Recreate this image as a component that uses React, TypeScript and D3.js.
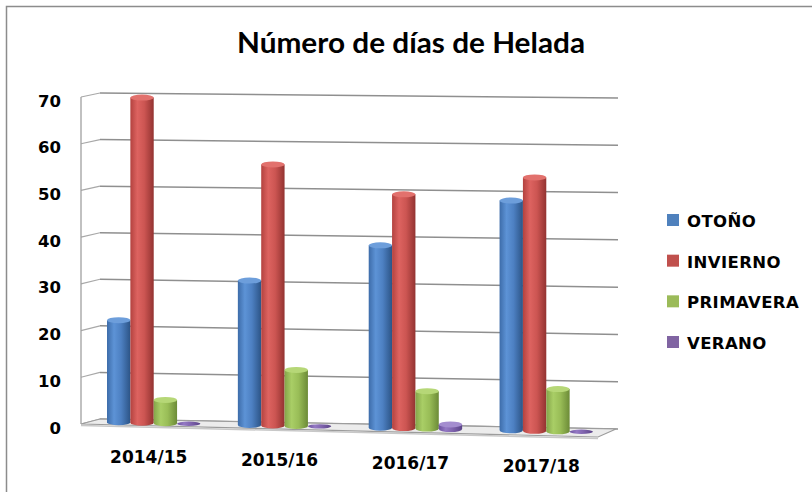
import React from "react";
import * as d3 from "d3";

const categories = ["2014/15", "2015/16", "2016/17", "2017/18"];
const seriesNames = ["OTOÑO", "INVIERNO", "PRIMAVERA", "VERANO"];
const otono = [22, 31, 39, 49];
const invierno = [70, 56, 50, 54];
const primavera = [5, 12, 8, 9];
const verano = [0, 0, 1, 0];
const yTicks = [0, 10, 20, 30, 40, 50, 60, 70];
const title = "Número de días de Helada";

const seriesValues = [otono, invierno, primavera, verano];
const legendColors = ["#4F81BD", "#C0504D", "#9BBB59", "#8064A2"];
const gradStops = [
  ["#3d6ca9", "#5d93d6", "#4d80c2", "#2c5486"],
  ["#b3423f", "#dd6360", "#cc5552", "#933331"],
  ["#84a549", "#a9ce66", "#99bd57", "#6c8b37"],
  ["#6c509e", "#9479c4", "#7f63ad", "#5a4387"],
];
const capColors = ["#6d9edb", "#e2716d", "#b6d777", "#a48dcf"];

const W = 812;
const H = 492;

export default function App() {
  const x0 = d3.scaleBand<string>().domain(categories).range([107, 593]).paddingInner(0.286).paddingOuter(0);
  const x1 = d3.scaleBand<string>().domain(seriesNames).range([0, x0.bandwidth()]).padding(0);

  // perspective helpers
  const baseY = d3.scaleLinear().domain([107, 593]).range([422, 432]);
  const kScale = d3.scaleLinear().domain([107, 593]).range([4.64, 4.7]);
  const yFront = d3.scaleLinear().domain([0, 70]).range([424, 97]);
  const yBackL = d3.scaleLinear().domain([0, 70]).range([419, 93]);
  const yBackR = d3.scaleLinear().domain([0, 70]).range([429, 98]);
  const labelY = d3.scaleLinear().domain([146, 541]).range([463, 472]);
  const legendY = d3.scaleLinear().domain([0, 3]).range([214, 336]);

  const wallX = 81;
  const backXL = 100;
  const backXR = 618;

  const floor: [number, number][] = [
    [wallX, 424],
    [598, 437],
    [616, 429],
    [backXL, 419],
  ];
  const line = d3.line();

  const bars: React.ReactNode[] = [];
  categories.forEach((c, ci) => {
    seriesNames.forEach((s, si) => {
      const v = seriesValues[si][ci];
      const bx = (x0(c) as number) + (x1(s) as number);
      const bw = x1.bandwidth();
      const cx = bx + bw / 2;
      const yScale = d3
        .scaleLinear()
        .domain([0, 70])
        .range([baseY(cx), baseY(cx) - 70 * kScale(cx)]);
      const yb = yScale(0);
      const yt = yScale(v);
      const rx = bw / 2;
      const ry = 3;
      const body = `M${bx},${yt} L${bx},${yb} A${rx},${ry} 0 0 0 ${bx + bw},${yb} L${bx + bw},${yt} Z`;
      bars.push(
        <g key={`${c}-${s}`}>
          {v > 0 && <path d={body} fill={`url(#grad${si})`} />}
          <ellipse cx={cx} cy={yt} rx={rx} ry={v > 0 ? ry : 2.2} fill={v > 0 ? capColors[si] : `url(#grad${si})`} />
        </g>
      );
    });
  });

  return (
    <div style={{ position: "absolute", left: 0, top: 0 }}>
      <svg width={W} height={H} style={{ display: "block", background: "#ffffff" }}>
        <defs>
          {gradStops.map((st, i) => (
            <linearGradient key={i} id={`grad${i}`} x1="0" y1="0" x2="1" y2="0">
              <stop offset="0%" stopColor={st[0]} />
              <stop offset="30%" stopColor={st[1]} />
              <stop offset="60%" stopColor={st[2]} />
              <stop offset="100%" stopColor={st[3]} />
            </linearGradient>
          ))}
        </defs>
        {/* outer border */}
        <path d={`M6.5,${H} V6.5 H${W}`} fill="none" stroke="#8c8c8c" strokeWidth={1.5} />

        {/* title */}
        <text
          x={411}
          y={53}
          textAnchor="middle"
          fontFamily="Lato, 'Open Sans', sans-serif"
          fontWeight={700}
          fontSize={28}
          textLength={348}
          lengthAdjust="spacingAndGlyphs"
          fill="#000"
        >
          {title}
        </text>

        {/* back wall gridlines */}
        {yTicks.map((t) => (
          <g key={`g${t}`}>
            <line x1={backXL} y1={yBackL(t)} x2={backXR} y2={yBackR(t)} stroke="#8f8f8f" strokeWidth={1.5} />
            <line x1={wallX} y1={yFront(t)} x2={backXL} y2={yBackL(t)} stroke="#a8a8a8" strokeWidth={1.2} />
          </g>
        ))}
        {/* left wall */}
        <line x1={wallX} y1={yFront(70)} x2={wallX} y2={yFront(0)} stroke="#a0a0a0" strokeWidth={1.3} />

        {/* floor */}
        <path d={line(floor) + "Z"} fill="#ececec" stroke="#9c9c9c" strokeWidth={1.2} />
        <line x1={wallX} y1={425.5} x2={598} y2={438.5} stroke="#c8c8c8" strokeWidth={1.5} />

        {bars}

        {/* y tick labels */}
        {yTicks.map((t) => (
          <text
            key={`t${t}`}
            x={61}
            y={yFront(t) + 9.5}
            textAnchor="end"
            fontFamily="'DejaVu Sans', sans-serif"
            fontWeight={700}
            fontSize={16.5}
            fill="#000"
          >
            {t}
          </text>
        ))}

        {/* category labels */}
        {categories.map((c) => {
          const lx = (x0(c) as number) + x0.bandwidth() / 2 - 5;
          return (
            <text
              key={`c${c}`}
              x={lx}
              y={labelY(lx)}
              textAnchor="middle"
              fontFamily="'DejaVu Sans', sans-serif"
              fontWeight={700}
              fontSize={17}
              fill="#000"
            >
              {c}
            </text>
          );
        })}

        {/* legend */}
        {seriesNames.map((s, i) => (
          <g key={`l${s}`}>
            <rect x={667} y={legendY(i)} width={12} height={12} fill={legendColors[i]} />
            <text
              x={687}
              y={legendY(i) + 13}
              fontFamily="'DejaVu Sans', sans-serif"
              fontWeight={700}
              fontSize={16.5}
              letterSpacing={0.4}
              fill="#000"
            >
              {s}
            </text>
          </g>
        ))}
      </svg>
    </div>
  );
}
